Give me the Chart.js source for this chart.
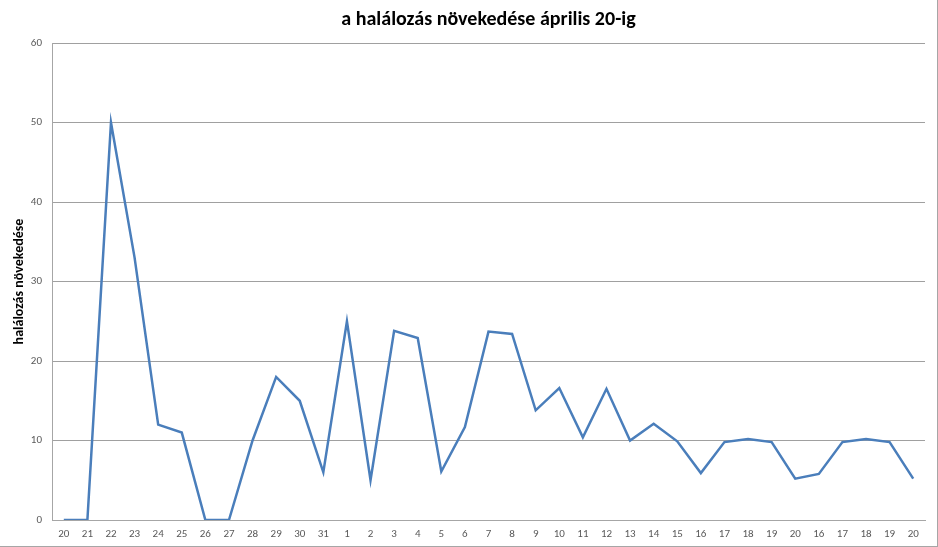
<!DOCTYPE html>
<html lang="hu">
<head>
    <meta charset="UTF-8">
    <title>a halálozás növekedése április 20-ig</title>
    <script src="https://cdn.jsdelivr.net/npm/chart.js"></script>
    <style>
        body {
            margin: 0;
            background: #fff;
        }
        .frame {
            width: 938px;
            height: 547px;
            box-sizing: border-box;
            border-right: 1px solid #a6a6a6;
            border-bottom: 1px solid #a6a6a6;
            position: relative;
        }
    </style>
</head>
<body>
    <div class="frame">
        <canvas id="deathChart"></canvas>
    </div>

    <script>
        // napok (március 20-tól április 20-ig, a végén ismétlődő 16-20)
        const days = ['20', '21', '22', '23', '24', '25', '26', '27', '28', '29', '30', '31',
            '1', '2', '3', '4', '5', '6', '7', '8', '9', '10', '11', '12', '13', '14', '15',
            '16', '17', '18', '19', '20', '16', '17', '18', '19', '20'];

        // napi halálozás növekedése
        const increase = [0, 0, 50, 33, 12, 11, 0, 0, 10, 18, 15, 6,
            25, 5, 23.8, 22.9, 6.1, 11.7, 23.7, 23.4, 13.8, 16.6, 10.4, 16.5, 10, 12.1, 9.9,
            5.9, 9.8, 10.2, 9.8, 5.2, 5.8, 9.8, 10.2, 9.8, 5.2];

        const yTicks = [0, 10, 20, 30, 40, 50, 60];

        const titleText = 'a halálozás növekedése április 20-ig';
        const yAxisTitle = 'halálozás növekedése';

        const ctx = document.getElementById('deathChart').getContext('2d');

        const chart = new Chart(ctx, {
            type: 'line',
            data: {
                labels: days,
                datasets: [{
                    label: yAxisTitle,
                    data: increase,
                    borderColor: '#4a7ebb',
                    borderWidth: 2.5,
                    pointRadius: 0,
                    pointHoverRadius: 0,
                    tension: 0,
                    fill: false
                }]
            },
            options: {
                responsive: true,
                maintainAspectRatio: false,
                animation: false,
                layout: {
                    padding: { left: 0, right: 12, top: 0, bottom: 0 }
                },
                plugins: {
                    legend: { display: false },
                    tooltip: { enabled: false },
                    title: {
                        display: true,
                        text: titleText,
                        fullSize: false,
                        color: '#000',
                        font: { family: "Carlito, 'Open Sans', sans-serif", size: 20, weight: 'bold' },
                        padding: { top: 8, bottom: 11 }
                    }
                },
                scales: {
                    x: {
                        offset: true,
                        grid: { display: false, drawTicks: false },
                        border: { color: '#a6a6a6', width: 1 },
                        ticks: {
                            color: '#595959',
                            font: { family: "Carlito, 'Open Sans', sans-serif", size: 11 },
                            maxRotation: 0,
                            autoSkip: false,
                            padding: 8
                        },
                        afterFit: (scale) => { scale.height = 26; }
                    },
                    y: {
                        min: yTicks[0],
                        max: yTicks[yTicks.length - 1],
                        afterBuildTicks: (scale) => {
                            scale.ticks = yTicks.map(v => ({ value: v }));
                        },
                        grid: { color: '#a0a0a0', drawTicks: false },
                        border: { color: '#a6a6a6', width: 1 },
                        ticks: {
                            color: '#595959',
                            font: { family: "Carlito, 'Open Sans', sans-serif", size: 11 },
                            padding: 10
                        },
                        title: {
                            display: true,
                            text: yAxisTitle,
                            color: '#000',
                            font: { family: "Carlito, 'Open Sans', sans-serif", size: 14, weight: 'bold' },
                            padding: { top: 11, bottom: 0 }
                        },
                        afterFit: (scale) => { scale.width = 52; }
                    }
                }
            }
        });
    </script>
</body>
</html>
